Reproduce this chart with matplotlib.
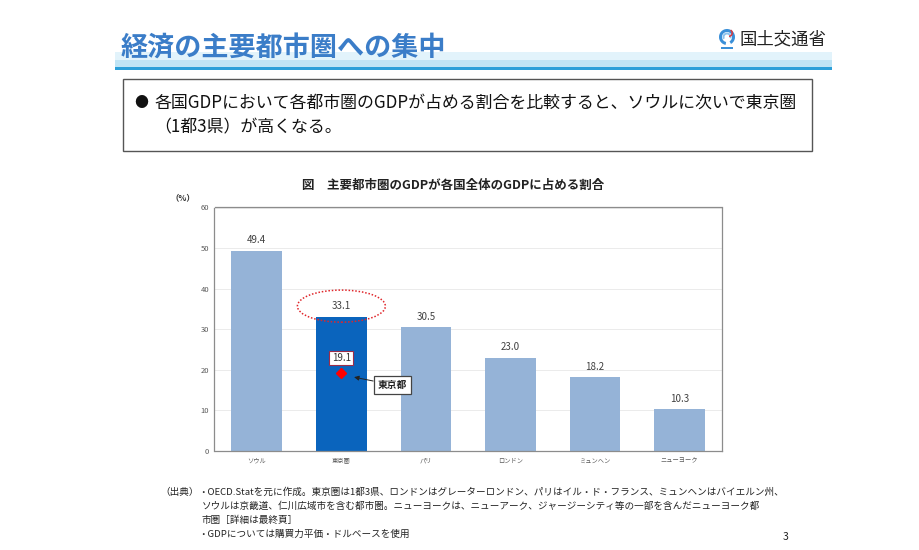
import matplotlib
matplotlib.use("Agg")
import matplotlib.pyplot as plt
from matplotlib.patches import Rectangle, Ellipse, Wedge
import numpy as np

plt.rcParams['font.family'] = ['Noto Sans CJK JP', 'DejaVu Sans']

cities = ["ソウル", "東京圏", "パリ", "ロンドン", "ミュンヘン", "ニューヨーク"]
shares = [49.4, 33.1, 30.5, 23.0, 18.2, 10.3]
tokyo_metro = 19.1
yticks = [0, 10, 20, 30, 40, 50, 60]

title = "経済の主要都市圏への集中"
bullet_lines = ["各国GDPにおいて各都市圏のGDPが占める割合を比較すると、ソウルに次いで東京圏",
                "（1都3県）が高くなる。"]
chart_title = "図　主要都市圏のGDPが各国全体のGDPに占める割合"
notes = ["・OECD.Statを元に作成。東京圏は1都3県、ロンドンはグレーターロンドン、パリはイル・ド・フランス、ミュンヘンはバイエルン州、",
         "ソウルは京畿道、仁川広域市を含む都市圏。ニューヨークは、ニューアーク、ジャージーシティ等の一部を含んだニューヨーク都",
         "市圏［詳細は最終頁］",
         "・GDPについては購買力平価・ドルベースを使用"]

fig = plt.figure(figsize=(9.2, 5.5), dpi=100)

# page decorations in pixel coords
bg = fig.add_axes([0, 0, 1, 1])
bg.set_xlim(0, 920)
bg.set_ylim(550, 0)
bg.axis("off")

bg.add_patch(Rectangle((115, 52), 717, 8, color="#e2f3fb", lw=0))
bg.add_patch(Rectangle((115, 60), 717, 8, color="#bfe4f5", lw=0))
bg.add_patch(Rectangle((115, 67), 717, 3, color="#2b9fd9", lw=0))
bg.text(121, 48, title, fontsize=19.5, fontweight="bold", color="#3b7dc8",
        va="center", ha="left")

# ministry logo
bg.add_patch(Wedge((727, 37), 8, 100, 420, width=3, color="#3a8fd8", lw=0))
bg.add_patch(Wedge((727, 37), 4.5, 150, 380, width=2, color="#8cc3ee", lw=0))
bg.add_patch(Wedge((729, 33), 4, -60, 90, width=1.5, color="#e0383c", lw=0))
bg.add_patch(Rectangle((721, 47), 12, 1.5, color="#3a8fd8", lw=0))
bg.text(740, 39, "国土交通省", fontsize=12.5, color="#222222", va="center", ha="left")

# summary box
bg.add_patch(Rectangle((123, 79), 689, 72, fill=False, ec="#555555", lw=1))
bg.text(134, 103, "●", fontsize=10, color="#111111", va="center", ha="left")
bg.text(154, 103, bullet_lines[0], fontsize=12.2, color="#111111", va="center", ha="left")
bg.text(154, 127, bullet_lines[1], fontsize=12.2, color="#111111", va="center", ha="left")

bg.text(453, 185, chart_title, fontsize=9, fontweight="bold", color="#222222",
        va="center", ha="center")
bg.text(183, 198, "（%）", fontsize=6, fontweight="bold", color="#333333",
        va="center", ha="center")

# footnotes
bg.text(160, 492, "（出典）", fontsize=6.9, color="#222222", va="center", ha="left")
for i, line in enumerate(notes):
    x = 198 if i in (0, 3) else 202
    bg.text(x, 492 + i * 14, line, fontsize=6.9, color="#222222", va="center", ha="left")
bg.text(786, 537, "3", fontsize=7.5, color="#222222", va="center", ha="center")

# bar chart
ax = fig.add_axes([214.5 / 920, 1 - 451 / 550, 507.5 / 920, 243.5 / 550])
x = np.arange(len(cities))
colors = ["#0a64bd" if c == "東京圏" else "#95b3d7" for c in cities]
bars = ax.bar(x, shares, width=0.6, color=colors, zorder=2)

for xi, v in zip(x, shares):
    ax.annotate(f"{v:.1f}", (xi, v), xytext=(0, 4), textcoords="offset points",
                ha="center", va="bottom", fontsize=7, color="#404040")

ax.set_xlim(-0.5, len(cities) - 0.5)
ax.set_ylim(0, 60)
ax.set_yticks(yticks)
ax.set_yticklabels([str(t) for t in yticks], fontsize=5.5, color="#595959")
ax.set_xticks(x)
ax.set_xticklabels(cities, fontsize=4.5, color="#595959")
ax.tick_params(length=0, pad=4)
ax.grid(axis="y", color="#e8e8e8", lw=0.6, zorder=0)
for s in ax.spines.values():
    s.set_color("#8c8c8c")
    s.set_linewidth(0.9)

# Tokyo metropolis marker and callouts
ti = cities.index("東京圏")
ax.plot(ti, tokyo_metro, marker="D", color="#ff0000", ms=5, zorder=4)
ax.text(ti, tokyo_metro + 3.8, f"{tokyo_metro:.1f}", fontsize=7, color="#333333",
        ha="center", va="center", zorder=5,
        bbox=dict(boxstyle="square,pad=0.25", fc="white", ec="#9b2d4a", lw=0.8))
ax.annotate("東京都", xy=(ti + 0.15, tokyo_metro - 0.9), xytext=(ti + 0.6, 16.3),
            fontsize=7, fontweight="bold", color="#222222", ha="center", va="center",
            bbox=dict(boxstyle="square,pad=0.4", fc="white", ec="#444444", lw=0.9),
            arrowprops=dict(arrowstyle="-|>", color="#222222", lw=0.7,
                            mutation_scale=7, shrinkA=0, shrinkB=0),
            zorder=5)
ax.add_patch(Ellipse((ti, 35.7), 1.04, 7.9, fill=False, ec="#e0262b", lw=1.1,
                     ls=(0, (1, 1.2)), clip_on=False, zorder=5))

fig.savefig("out.png", dpi=100)
